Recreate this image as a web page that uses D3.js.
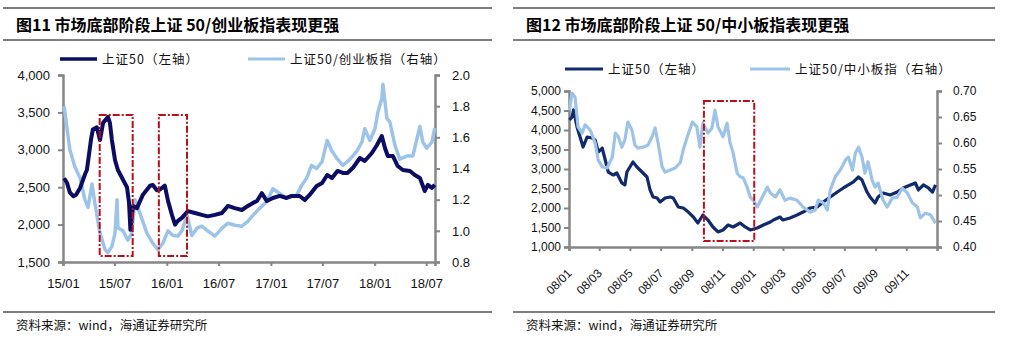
<!DOCTYPE html>
<html>
<head>
<meta charset="utf-8">
<script src="https://cdn.jsdelivr.net/npm/d3@7/dist/d3.min.js"></script>
<style>
  body { margin: 0; background: #fff; }
  svg { display: block; font-family: "Liberation Sans", Arial, sans-serif; }
  .cjk { font-family: "Noto Sans CJK SC", sans-serif; }
</style>
</head>
<body>
<div id="chart"></div>
<script>
// ---------- Figure 11: SSE 50 vs SSE 50 / ChiNext, 2015-2018 ----------
var sz50Dates15 = [
  "2015-01-05","2015-01-15","2015-01-25","2015-02-06","2015-02-16","2015-03-02","2015-03-20","2015-03-26",
  "2015-04-10","2015-04-16","2015-04-30","2015-05-11","2015-05-22","2015-06-08","2015-06-15","2015-06-22",
  "2015-07-03","2015-07-13","2015-07-31","2015-08-14","2015-08-21","2015-08-26","2015-09-04","2015-09-18",
  "2015-10-09","2015-11-03","2015-11-13","2015-11-27","2015-12-08","2015-12-18","2015-12-25","2016-01-05",
  "2016-01-19","2016-01-30","2016-02-09","2016-02-23","2016-03-15","2016-04-09","2016-05-03","2016-05-24",
  "2016-06-18","2016-07-13","2016-08-03","2016-08-27","2016-09-21","2016-10-12","2016-10-30","2016-11-13",
  "2016-11-30","2016-12-18","2017-01-08","2017-02-01","2017-02-25","2017-03-15","2017-04-12","2017-04-30",
  "2017-05-17","2017-06-11","2017-06-30","2017-07-18","2017-08-04","2017-08-23","2017-09-11","2017-09-27",
  "2017-10-16","2017-11-10","2017-11-27","2017-12-22","2018-01-09","2018-01-26","2018-02-06","2018-02-16",
  "2018-03-06","2018-03-23","2018-04-10","2018-05-05","2018-05-22","2018-06-09","2018-06-26","2018-07-07",
  "2018-07-21","2018-07-31"
];
var sz50Values15 = [
  2620, 2560, 2430, 2380, 2400, 2490, 2680, 2730,
  3150, 3270, 3300, 3130, 3360, 3440, 3360, 3130,
  2860, 2730, 2600, 2500, 2300, 1930, 2250, 2220,
  2400, 2520, 2530, 2460, 2470, 2500, 2520, 2320,
  2130, 2000, 2050, 2090, 2180, 2155, 2130, 2110,
  2130, 2155, 2250, 2220, 2195, 2250, 2290, 2315,
  2420, 2315, 2356, 2383, 2356, 2383, 2383, 2329,
  2396, 2516, 2556, 2663, 2623, 2717, 2690, 2690,
  2757, 2890, 2850, 2957, 3064, 3184, 3024, 2917,
  2917, 2783, 2730, 2717, 2663, 2623, 2449, 2530,
  2490, 2530
];
var cybDates = [
  "2015-01-05","2015-01-15","2015-01-25","2015-02-12","2015-03-02","2015-03-19","2015-03-30","2015-04-13",
  "2015-04-23","2015-05-11","2015-05-29","2015-06-08","2015-06-22","2015-07-03","2015-07-10","2015-07-13",
  "2015-07-31","2015-08-17","2015-08-31","2015-09-11","2015-09-29","2015-10-23","2015-11-13","2015-12-01",
  "2015-12-18","2016-01-05","2016-01-23","2016-02-09","2016-02-23","2016-03-12","2016-03-29","2016-04-16",
  "2016-05-03","2016-05-24","2016-06-18","2016-07-13","2016-08-03","2016-08-27","2016-09-21","2016-10-12",
  "2016-10-30","2016-11-23","2016-12-18","2017-01-08","2017-02-01","2017-02-25","2017-03-15","2017-04-02",
  "2017-04-19","2017-05-07","2017-05-24","2017-06-11","2017-06-30","2017-07-18","2017-08-04","2017-08-23",
  "2017-09-11","2017-09-27","2017-10-06","2017-10-30","2017-11-17","2017-11-27","2017-12-15","2018-01-02",
  "2018-01-12","2018-01-26","2018-01-30","2018-02-13","2018-02-23","2018-03-13","2018-03-30","2018-04-24",
  "2018-05-15","2018-06-09","2018-06-19","2018-07-03","2018-07-21","2018-07-31"
];
var cybRatio = [
  1.80, 1.66, 1.52, 1.41, 1.34, 1.20, 1.15, 1.30,
  1.18, 0.985, 0.88, 0.86, 0.90, 0.985, 1.20, 1.02,
  1.00, 0.94, 0.985, 1.20, 1.11, 0.985, 0.92, 0.88,
  0.92, 1.00, 0.97, 0.966, 1.00, 1.10, 0.97, 1.017,
  1.03, 1.00, 0.966, 1.017, 1.049, 1.036, 1.03, 1.06,
  1.10, 1.145, 1.19, 1.27, 1.24, 1.21, 1.22, 1.23,
  1.29, 1.34, 1.42, 1.40, 1.445, 1.58, 1.51, 1.46,
  1.42, 1.445, 1.46, 1.51, 1.57, 1.655, 1.58, 1.655,
  1.76, 1.85, 1.94, 1.72, 1.70, 1.55, 1.46, 1.48,
  1.48, 1.67, 1.57, 1.53, 1.57, 1.66
];
var boxes15 = [["2015-05-10", "2015-09-03"], ["2015-12-04", "2016-03-12"]];
var boxValues15 = [3465, 1580];

// ---------- Figure 12: SSE 50 vs SSE 50 / SME board, 2008-2009 ----------
var sz50Dates08 = [
  "2008-01-02","2008-01-07","2008-01-10","2008-01-17","2008-01-23","2008-01-29","2008-02-06","2008-02-16",
  "2008-02-22","2008-02-28","2008-03-07","2008-03-13","2008-03-19","2008-03-29","2008-04-05","2008-04-15",
  "2008-04-21","2008-04-25","2008-05-01","2008-05-07","2008-05-15","2008-05-25","2008-06-04","2008-06-10",
  "2008-06-16","2008-06-24","2008-06-30","2008-07-10","2008-07-20","2008-07-26","2008-08-05","2008-08-15",
  "2008-08-25","2008-09-04","2008-09-13","2008-09-23","2008-10-03","2008-10-13","2008-10-23","2008-11-02",
  "2008-11-12","2008-11-22","2008-12-06","2008-12-16","2008-12-26","2009-01-09","2009-01-21","2009-02-04",
  "2009-02-10","2009-02-23","2009-03-01","2009-03-15","2009-03-29","2009-04-10","2009-04-24","2009-05-08",
  "2009-05-20","2009-06-03","2009-06-17","2009-06-29","2009-07-09","2009-07-19","2009-07-29","2009-08-05",
  "2009-08-15","2009-08-21","2009-08-31","2009-09-06","2009-09-16","2009-09-30","2009-10-14","2009-10-26",
  "2009-11-09","2009-11-19","2009-11-25","2009-12-05","2009-12-15","2009-12-23","2009-12-29"
];
var sz50Values08 = [
  4256, 4333, 4513, 4077, 3820, 3564, 3820, 3795,
  3744, 3436, 3538, 3231, 2923, 2846, 2897, 2641,
  2590, 2923, 3051, 3180, 3051, 2923, 2795, 2462,
  2282, 2256, 2154, 2256, 2282, 2256, 2026, 2000,
  1897, 1769, 1615, 1820, 1692, 1513, 1385, 1436,
  1564, 1513, 1615, 1513, 1436, 1487, 1564, 1641,
  1692, 1769, 1692, 1744, 1820, 1897, 2000, 2026,
  2154, 2282, 2410, 2513, 2590, 2667, 2795, 2718,
  2410, 2282, 2128, 2282, 2385, 2333, 2410, 2513,
  2590, 2641, 2462, 2590, 2513, 2410, 2590
];
var smeDates = [
  "2008-01-02","2008-01-07","2008-01-13","2008-01-19","2008-01-27","2008-02-02","2008-02-12","2008-02-22",
  "2008-02-28","2008-03-07","2008-03-17","2008-03-27","2008-04-02","2008-04-08","2008-04-15","2008-04-21",
  "2008-04-27","2008-05-05","2008-05-11","2008-05-17","2008-05-27","2008-06-06","2008-06-14","2008-06-20",
  "2008-06-26","2008-07-04","2008-07-10","2008-07-20","2008-07-30","2008-08-09","2008-08-15","2008-08-23",
  "2008-09-02","2008-09-11","2008-09-17","2008-09-23","2008-10-03","2008-10-11","2008-10-17","2008-10-23",
  "2008-11-02","2008-11-10","2008-11-16","2008-11-22","2008-11-30","2008-12-06","2008-12-12","2008-12-20",
  "2008-12-26","2009-01-01","2009-01-09","2009-01-19","2009-01-29","2009-02-04","2009-02-14","2009-02-23",
  "2009-03-05","2009-03-15","2009-03-29","2009-04-10","2009-04-24","2009-05-04","2009-05-10","2009-05-20",
  "2009-05-28","2009-06-03","2009-06-13","2009-06-23","2009-07-03","2009-07-09","2009-07-17","2009-07-23",
  "2009-07-29","2009-08-05","2009-08-11","2009-08-17","2009-08-25","2009-08-31","2009-09-06","2009-09-16",
  "2009-09-24","2009-10-04","2009-10-14","2009-10-24","2009-11-03","2009-11-13","2009-11-23","2009-11-29",
  "2009-12-09","2009-12-19","2009-12-29"
];
var smeRatio = [
  0.663, 0.696, 0.688, 0.631, 0.619, 0.635, 0.625, 0.600,
  0.567, 0.554, 0.552, 0.573, 0.619, 0.612, 0.592, 0.606,
  0.640, 0.625, 0.596, 0.590, 0.592, 0.596, 0.612, 0.629,
  0.600, 0.554, 0.544, 0.548, 0.552, 0.562, 0.587, 0.612,
  0.640, 0.631, 0.592, 0.638, 0.619, 0.629, 0.663, 0.631,
  0.612, 0.638, 0.600, 0.581, 0.542, 0.535, 0.533, 0.515,
  0.496, 0.490, 0.477, 0.496, 0.515, 0.504, 0.496, 0.510,
  0.490, 0.494, 0.490, 0.477, 0.467, 0.471, 0.490, 0.485,
  0.471, 0.510, 0.535, 0.548, 0.567, 0.573, 0.548, 0.581,
  0.592, 0.573, 0.542, 0.564, 0.529, 0.515, 0.523, 0.490,
  0.477, 0.494, 0.496, 0.513, 0.504, 0.485, 0.477, 0.456,
  0.465, 0.462, 0.446
];
var boxes08 = [["2008-09-25", "2009-01-03"]];
var boxValues08 = [4744, 1154];

var parseDate = d3.timeParse("%Y-%m-%d");

function zipSeries(dates, values) {
  return dates.map((d, i) => ({ date: parseDate(d), value: values[i] }));
}

var svg = d3.select("#chart")
  .append("svg")
  .attr("width", 1020)
  .attr("height", 347);

svg.append("rect").attr("width", 1020).attr("height", 347).attr("fill", "#fff");

var axisGray = "#868686";
var boxRed = "#b8101a";
var lightBlue = "#9dc3e8";

// Draws one panel: frame rules, title, legend, axes, both series and highlight boxes
function drawPanel(cfg) {
  var g = svg.append("g");

  // horizontal rules round the title and above the source line
  [8, 40, 312].forEach(y => {
    g.append("line")
      .attr("x1", cfg.frame[0]).attr("x2", cfg.frame[1])
      .attr("y1", y).attr("y2", y)
      .attr("stroke", "#000").attr("stroke-width", 1.2);
  });

  g.append("text")
    .attr("class", "cjk")
    .attr("x", cfg.frame[0] + 13)
    .attr("y", 31)
    .attr("font-size", "16px")
    .attr("font-weight", "bold")
    .text(cfg.title);

  g.append("text")
    .attr("class", "cjk")
    .attr("x", cfg.frame[0] + 13)
    .attr("y", 330)
    .attr("font-size", "12.5px")
    .attr("fill", "#111")
    .text("资料来源：wind，海通证券研究所");

  var x = d3.scaleTime().domain(cfg.xDomain).range([cfg.plot.left, cfg.plot.right]);
  var yL = d3.scaleLinear().domain(cfg.yLeft).range([cfg.plot.bottom, cfg.plot.top]);
  var yR = d3.scaleLinear().domain(cfg.yRight).range([cfg.plot.bottom, cfg.plot.top]);

  // left axis
  var leftAxis = d3.axisLeft(yL).tickValues(cfg.yLeftTicks)
    .tickFormat(d3.format(",")).tickSize(5).tickPadding(cfg.leftPad);
  var gl = g.append("g")
    .attr("transform", `translate(${cfg.plot.left},0)`)
    .call(leftAxis);

  // right axis
  var rightAxis = d3.axisRight(yR).tickValues(cfg.yRightTicks)
    .tickFormat(d3.format(cfg.rightFormat)).tickSize(5).tickPadding(cfg.rightPad);
  var gr = g.append("g")
    .attr("transform", `translate(${cfg.plot.right},0)`)
    .call(rightAxis);

  // bottom axis
  var bottomAxis = d3.axisBottom(x).tickValues(cfg.xTicks)
    .tickFormat(d3.timeFormat("%y/%m")).tickSize(4).tickPadding(13);
  var gb = g.append("g")
    .attr("transform", `translate(0,${cfg.plot.bottom})`)
    .call(bottomAxis);

  [gl, gr, gb].forEach(a => {
    a.select(".domain").attr("stroke", axisGray).attr("stroke-width", cfg.axisWidth);
    a.selectAll(".tick line").attr("stroke", axisGray).attr("stroke-width", 2);
    a.selectAll(".tick text")
      .attr("fill", "#111")
      .attr("font-size", cfg.tickFont)
      .attr("font-family", "'Liberation Sans', Arial, sans-serif");
  });

  if (cfg.rotateX) {
    gb.selectAll(".tick text")
      .attr("text-anchor", "end")
      .attr("dy", 0)
      .attr("y", 0)
      .attr("transform", "translate(3,27) rotate(-45)");
  }

  var line = (scale) => d3.line()
    .x(d => x(d.date))
    .y(d => scale(d.value));

  var darkPath = () => g.append("path")
    .datum(cfg.dark)
    .attr("fill", "none")
    .attr("stroke", cfg.darkColor)
    .attr("stroke-width", cfg.darkWidth)
    .attr("stroke-linejoin", "round")
    .attr("d", line(yL));
  var lightPath = () => g.append("path")
    .datum(cfg.light)
    .attr("fill", "none")
    .attr("stroke", lightBlue)
    .attr("stroke-width", cfg.lightWidth)
    .attr("stroke-linejoin", "round")
    .attr("d", line(yR));

  if (cfg.darkOnTop) { lightPath(); darkPath(); }
  else { darkPath(); lightPath(); }

  // highlighted periods
  cfg.boxes.forEach(b => {
    var x0 = x(parseDate(b[0])), x1 = x(parseDate(b[1]));
    var yTop = yL(cfg.boxValues[0]), yBot = yL(cfg.boxValues[1]);
    g.append("rect")
      .attr("x", x0).attr("y", yTop)
      .attr("width", x1 - x0).attr("height", yBot - yTop)
      .attr("fill", "none")
      .attr("stroke", boxRed)
      .attr("stroke-width", 2)
      .attr("stroke-dasharray", "7,2,2,2");
  });

  // legend
  var leg = g.append("g").attr("class", "cjk").attr("font-size", "12.5px");
  cfg.legend.forEach(item => {
    leg.append("line")
      .attr("x1", item.x).attr("x2", item.x + item.len)
      .attr("y1", cfg.legendY).attr("y2", cfg.legendY)
      .attr("stroke", item.color).attr("stroke-width", item.width);
    leg.append("text")
      .attr("x", item.x + item.len + 5)
      .attr("y", cfg.legendY + 4.5)
      .attr("letter-spacing", "1px")
      .attr("fill", "#111")
      .text(item.label);
  });
}

drawPanel({
  title: "图11 市场底部阶段上证 50/创业板指表现更强",
  frame: [3, 492],
  plot: { left: 63, right: 435, top: 75, bottom: 262 },
  xDomain: [new Date(2015, 0, 1), new Date(2018, 7, 1)],
  xTicks: d3.timeMonth.range(new Date(2015, 0, 1), new Date(2018, 7, 1), 6),
  yLeft: [1500, 4000],
  yLeftTicks: d3.range(1500, 4001, 500),
  yRight: [0.8, 2.0],
  yRightTicks: d3.range(8, 21, 2).map(v => v / 10),
  rightFormat: ".1f",
  leftPad: 8,
  rightPad: 12,
  tickFont: "13px",
  axisWidth: 2.5,
  rotateX: false,
  dark: zipSeries(sz50Dates15, sz50Values15),
  light: zipSeries(cybDates, cybRatio),
  darkColor: "#0b0c62",
  darkWidth: 4,
  lightWidth: 3.5,
  darkOnTop: true,
  boxes: boxes15,
  boxValues: boxValues15,
  legendY: 59,
  legend: [
    { x: 60, len: 37, color: "#0b0c62", width: 3.5, label: "上证50（左轴）" },
    { x: 248, len: 37, color: lightBlue, width: 3, label: "上证50/创业板指（右轴）" }
  ]
});

drawPanel({
  title: "图12 市场底部阶段上证 50/中小板指表现更强",
  frame: [513, 995],
  plot: { left: 569, right: 937, top: 91, bottom: 247 },
  xDomain: [new Date(2008, 0, 1), new Date(2010, 0, 1)],
  xTicks: d3.timeMonth.range(new Date(2008, 0, 1), new Date(2009, 11, 1), 2),
  yLeft: [1000, 5000],
  yLeftTicks: d3.range(1000, 5001, 500),
  yRight: [0.40, 0.70],
  yRightTicks: d3.range(40, 71, 5).map(v => v / 100),
  rightFormat: ".2f",
  leftPad: 3,
  rightPad: 11,
  tickFont: "12px",
  axisWidth: 2.5,
  rotateX: true,
  dark: zipSeries(sz50Dates08, sz50Values08),
  light: zipSeries(smeDates, smeRatio),
  darkColor: "#102a6c",
  darkWidth: 3.2,
  lightWidth: 3.2,
  darkOnTop: false,
  boxes: boxes08,
  boxValues: boxValues08,
  legendY: 69,
  legend: [
    { x: 565, len: 38, color: "#102a6c", width: 3, label: "上证50（左轴）" },
    { x: 750, len: 40, color: lightBlue, width: 3, label: "上证50/中小板指（右轴）" }
  ]
});
</script>
</body>
</html>
